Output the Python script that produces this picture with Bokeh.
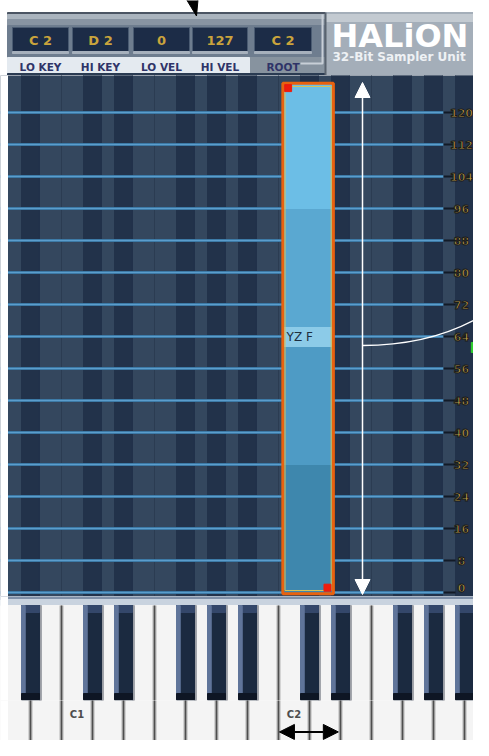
from bokeh.plotting import figure
from bokeh.layouts import column
from bokeh.models import Range1d, Arrow, NormalHead
from bokeh.core.properties import value
from bokeh.embed import file_html
from bokeh.resources import INLINE

# ---------------- data ----------------
zone_params = ["LO KEY", "HI KEY", "LO VEL", "HI VEL", "ROOT"]
zone_values = ["C 2", "D 2", "0", "127", "C 2"]
lo_key, hi_key = "C2", "D2"
lo_vel, hi_vel = 0, 127
vel_ticks = [0, 8, 16, 24, 32, 40, 48, 56, 64, 72, 80, 88, 96, 104, 112, 120]
band_lo = [0, 32, 61.5, 66.5, 96]
band_hi = [32, 61.5, 66.5, 96, 127]
band_colors = ["#3e87ad", "#4e9bc5", "#8ccbe8", "#5aa8d1", "#6cbee6"]
zone_name = "YZ F"
white_keys = ["A0", "B0", "C1", "D1", "E1", "F1", "G1", "A1", "B1",
              "C2", "D2", "E2", "F2", "G2", "A2", "B2"]
black_keys = ["A#0", "C#1", "D#1", "F#1", "G#1", "A#1", "C#2", "D#2", "F#2", "G#2", "A#2"]
key_labels = ["C1", "C2"]
logo_text = "HALiON"
logo_sub = "32-Bit Sampler Unit"

# ---------------- helpers ----------------
ORDER = "CDEFGAB"


def wpos(name):
    return int(name[-1]) * 7 + ORDER.index(name[0]) - 5


def bpos(name):
    return wpos(name[0] + name[-1]) + 1


BW = 0.58
W = 473
XR = (1 / 31, 474 / 31)        # key units visible across the page
LEFT_W = 8 / 31                 # white strip on the left
FONT = value("DejaVu Sans")


def bare(p, bg):
    p.outline_line_color = None
    p.background_fill_color = bg
    p.border_fill_color = bg
    p.min_border = 0
    return p


def fig(h, xr, yr, bg):
    return bare(figure(width=W, height=h, x_range=Range1d(*xr), y_range=Range1d(*yr),
                       output_backend="svg", toolbar_location=None,
                       x_axis_type=None, y_axis_type=None), bg)


# ---------------- header ----------------
h = fig(75, (0, 473), (75, 0), "white")
h.quad(left=7, right=473, top=12, bottom=14, color="#4b5563")
h.quad(left=7, right=473, top=14, bottom=19, color="#aab4be")
h.quad(left=7, right=473, top=19, bottom=25, color="#8894a2")
h.quad(left=7, right=473, top=25, bottom=57, color="#6e7d8f")
h.quad(left=7, right=473, top=57, bottom=73, color="#87939f")
h.quad(left=7, right=249, top=57, bottom=73, color="#e4eaf0")
h.quad(left=7, right=473, top=73, bottom=75, color="#2a3b52")
h.patch(x=[186, 197.5, 196], y=[-1, -1, 15.5], color="black")

box_x0 = [12, 72, 133, 192, 254]
box_x1 = [68, 128, 189, 247, 311]
bc = [(a + b) / 2 for a, b in zip(box_x0, box_x1)]
h.quad(left=box_x0, right=box_x1, top=27, bottom=51, fill_color="#1c2c47",
       line_color="#4a5b72", line_width=1)
h.quad(left=box_x0, right=box_x1, top=51, bottom=53, color="#a6b0bc")
h.text(x=bc, y=40, text=zone_values, text_align="center", text_baseline="middle",
       text_color="#caa43c", text_font=FONT, text_font_size="13px", text_font_style="bold")
h.text(x=bc, y=66, text=zone_params, text_align="center", text_baseline="middle",
       text_color="#2f3468", text_font=FONT, text_font_size="10.5px", text_font_style="bold")
h.multi_line(xs=[[300, 322, 322]], ys=[[63, 63, 14]], line_color="#c8cfd7", line_width=2)

h.quad(left=325, right=473, top=12, bottom=75, color="#a4aeb9")
h.quad(left=325, right=473, top=14, bottom=21, color="#c3cad1")
h.segment(x0=325, x1=325, y0=12, y1=75, line_color="#59636f", line_width=2)
h.text(x=331, y=35, text=[logo_text], text_align="left", text_baseline="middle",
       text_color="white", text_font=FONT, text_font_size="32px", text_font_style="bold")
h.text(x=332, y=56, text=[logo_sub], text_align="left", text_baseline="middle",
       text_color="#eef1f4", text_font=FONT, text_font_size="12px", text_font_style="bold")

# ---------------- key / velocity grid ----------------
g = fig(521, XR, (-1, 129.25), "#34475e")
bx = [bpos(kk) for kk in black_keys]
g.quad(left=[c - BW / 2 for c in bx], right=[c + BW / 2 for c in bx],
       bottom=-5, top=140, color="#22324a")
edge_x = [wpos(kk) for kk in white_keys if kk[0] in "CF"]
g.segment(x0=edge_x, x1=edge_x, y0=-5, y1=140, line_color="#2b3c52", line_width=1)

LINE_END, TICK_END, LABEL_X = 444 / 31, 456 / 31, 462 / 31
g.segment(x0=XR[0], x1=LINE_END, y0=vel_ticks, y1=vel_ticks, line_color="#3d7aa6", line_width=3)
g.segment(x0=XR[0], x1=LINE_END, y0=vel_ticks, y1=vel_ticks, line_color="#5b9dcc", line_width=1)
g.segment(x0=LINE_END, x1=TICK_END, y0=vel_ticks, y1=vel_ticks, line_color="#121a26", line_width=2)
lab_style = dict(text_align="center", text_color="#c9a548", text_font=FONT,
                 text_font_size="11px", text_font_style="bold", text_outline_color="#1b1b1b")
g.text(x=LABEL_X, y=vel_ticks[1:], text=[str(v) for v in vel_ticks[1:]],
       text_baseline="middle", **lab_style)
g.text(x=LABEL_X, y=0.1, text=[str(vel_ticks[0])], text_baseline="bottom", **lab_style)

zx0 = wpos(lo_key) + 0.14
zx1 = wpos(hi_key) + 1 - 0.23
g.quad(left=zx0, right=zx1, bottom=band_lo, top=band_hi, color=band_colors)
g.quad(left=zx0, right=zx1, bottom=lo_vel - 0.3, top=hi_vel + 0.3, fill_color=None,
       line_color="#e8620f", line_width=3)
g.quad(left=zx0 + 0.07, right=zx1 - 0.07, bottom=lo_vel + 0.5, top=hi_vel - 0.5,
       fill_color=None, line_color="#d3c35c", line_width=1)
g.rect(x=[zx0 + 0.17, zx1 - 0.19], y=[hi_vel - 0.9, lo_vel + 1.2], width=7, height=7,
       width_units="screen", height_units="screen", color="#ee1c0c")
g.text(x=zx0 + 0.12, y=64, text=[zone_name], text_align="left", text_baseline="middle",
       text_color="#1e2f40", text_font=FONT, text_font_size="12px")

ax = 363 / 31
g.add_layout(Arrow(start=NormalHead(size=15, fill_color="white", line_color="white"),
                   end=NormalHead(size=15, fill_color="white", line_color="white"),
                   x_start=ax, y_start=lo_vel - 0.5, x_end=ax, y_end=hi_vel + 0.5,
                   line_color="white", line_width=1.5))
g.quadratic(x0=ax, y0=61.75, x1=XR[1], y1=68.0, cx=426 / 31, cy=61.75,
            line_color="white", line_width=1.5)
g.quad(left=XR[1] - 0.07, right=XR[1], bottom=60, top=62.5, color="#2fd02f")
g.quad(left=XR[0] - 1, right=LEFT_W, bottom=-5, top=140, color="white")

# ---------------- keyboard (two bands) ----------------
wx = [wpos(n) for n in white_keys]


def draw_keys(k):
    k.quad(left=XR[0] - 1, right=XR[1] + 1, top=596, bottom=599, color="#7f90a8")
    k.quad(left=XR[0] - 1, right=XR[1] + 1, top=599, bottom=605, color="#c9d3df")
    k.quad(left=wx, right=[x + 1 for x in wx], top=605, bottom=760, color="#f4f4f4")
    k.segment(x0=wx[1:], x1=wx[1:], y0=605, y1=760, line_color="#b4b4b4", line_width=4)
    k.segment(x0=wx[1:], x1=wx[1:], y0=605, y1=760, line_color="#4e4e4e", line_width=1.5)
    k.quad(left=[c + BW / 2 for c in bx], right=[c + BW / 2 + 0.06 for c in bx],
           top=605, bottom=700, color="#9a9ea5")
    k.quad(left=[c - BW / 2 for c in bx], right=[c + BW / 2 for c in bx],
           top=605, bottom=699, color="#1b2a40")
    k.quad(left=[c - BW / 2 for c in bx], right=[c + BW / 2 for c in bx],
           top=605, bottom=612, color="#34476a")
    k.quad(left=[c - BW / 2 for c in bx], right=[c - BW / 2 + 0.12 for c in bx],
           top=605, bottom=694, color="#60759a")
    k.quad(left=[c - BW / 2 for c in bx], right=[c + BW / 2 for c in bx],
           top=693, bottom=699, color="#0e1624")
    k.quad(left=XR[0] - 1, right=LEFT_W, top=590, bottom=760, color="white")


k1 = fig(104, XR, (700, 596), "#f4f4f4")
draw_keys(k1)
k2 = fig(40, XR, (756, 700), "#f4f4f4")
draw_keys(k2)
k2.text(x=[wpos(n) + 0.5 for n in key_labels], y=720, text=key_labels, text_align="center",
        text_baseline="middle", text_color="#4d4d4d", text_font=FONT,
        text_font_size="10px", text_font_style="bold")
k2.add_layout(Arrow(start=NormalHead(size=15, fill_color="black", line_color="black"),
                    end=NormalHead(size=15, fill_color="black", line_color="black"),
                    x_start=wpos(lo_key) + 0.03, y_start=744,
                    x_end=wpos(hi_key) + 1 - 0.07, y_end=744,
                    line_color="black", line_width=2))

layout = column(h, g, k1, k2, spacing=0)
open("out.html", "w").write(file_html(layout, INLINE))
